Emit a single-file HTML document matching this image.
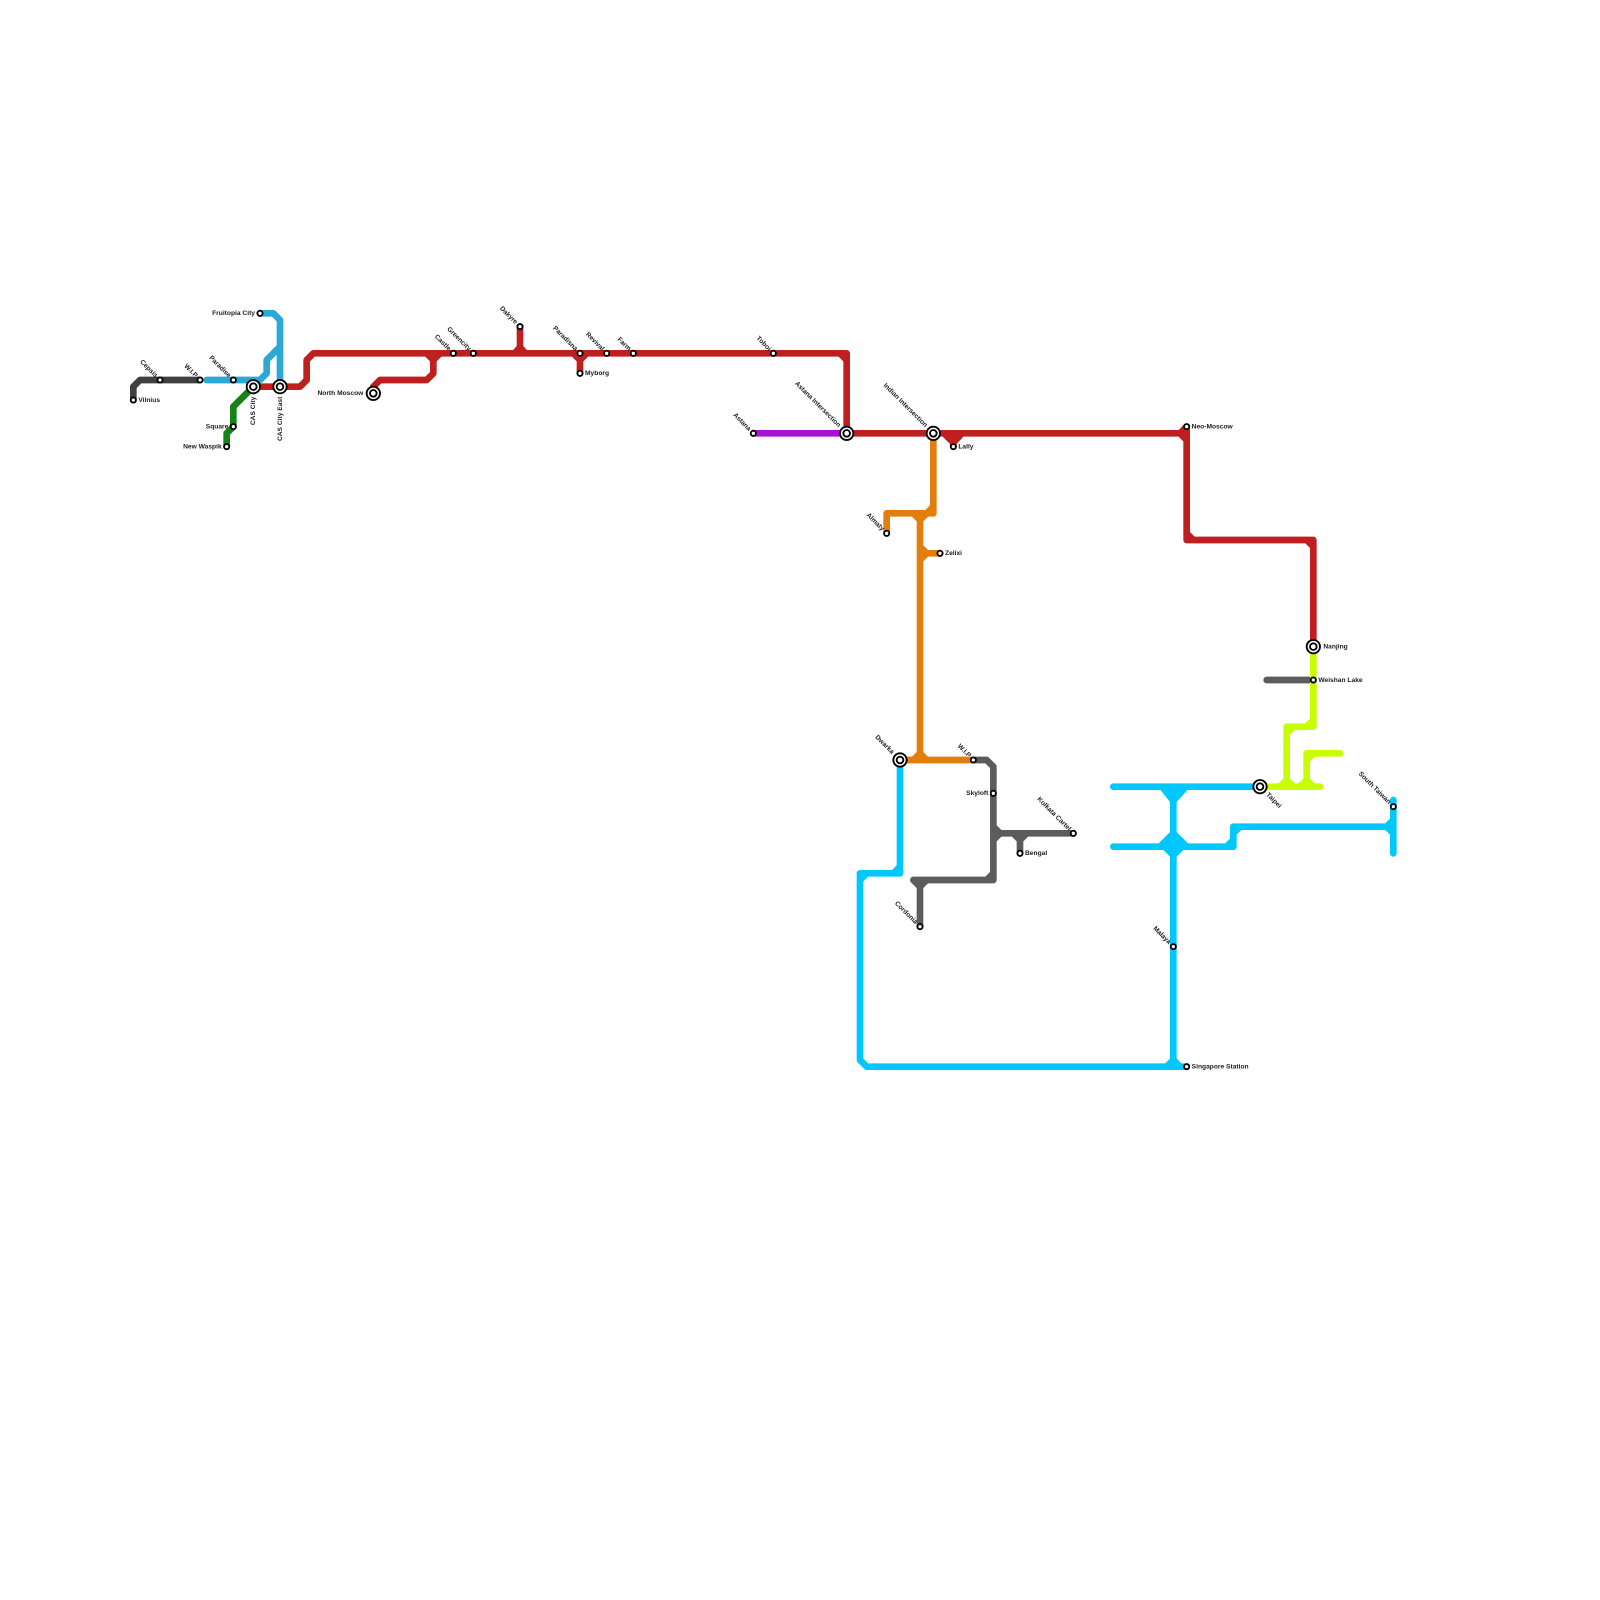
<!DOCTYPE html>
<html><head><meta charset="utf-8"><style>
html,body{margin:0;padding:0;background:#fff}
svg{display:block}
path{fill:none;stroke-width:1;stroke-linejoin:round;stroke-linecap:round}
text{font-family:"Liberation Sans",sans-serif;font-weight:bold;font-size:1px;fill:#1c1c1c}
.s{fill:#fff;stroke:#000;stroke-width:.28}
</style></head><body>
<svg xmlns="http://www.w3.org/2000/svg" width="1600" height="1600" viewBox="0 0 240 240">
<rect width="240" height="240" fill="#fff"/>

<!-- lines -->
<path stroke="#404040" d="M20 60V58L21 57H30"/>
<path stroke="#2ca8d6" d="M31 57H39L40 56V54L42 52M39 47H41L42 48V58"/>
<path stroke="#178217" d="M38 58L35 61V64L34 65V67"/>

<path stroke="#c01f1f" d="M38 58H45L46 57V54L47 53H127V65M56 59V58L57 57H64L65 56V54L66 53M64 53L65 54M78 49V53M87 53V56M126 53L127 54M127 65H177L178 66V81H197V97M177 65L178 64V66M178 80L179 81M196 81L197 82M86 53L87 54L88 53M143 65V67"/>
<polygon fill="#c01f1f" points="76.9,52.6 77.5,51.9 78.5,51.9 79.1,52.6"/>
<polygon fill="#c01f1f" points="141.3,65.4 142.5,66.6 143.5,66.6 144.6,65.4"/>

<path stroke="#aa10d8" d="M113 65H127"/>

<path stroke="#e27f0c" d="M133 80V77H140V65M139 77L140 76M137 77L138 78V114M139 77L138 78M138 82L139 83H141M139 83L138 84M135 114H146M137 114L138 113L139 114"/>

<path stroke="#5c5c5c" d="M146 114H148L149 115V132H137L138 133V139M139 132L138 133M149 124L150 125H161M149 126L150 125M148 132L149 131M152 125L153 126V128M154 125L153 126"/>
<path stroke="#5c5c5c" d="M190 102H197"/>

<path stroke="#00c8ff" d="M135 114V131H129V159L130 160H178M134 131L135 130M129 132L130 131M176 118V160M175 160L176 159L177 160M167 118H189M167 127H185V124H209M184 127L185 126M185 125L186 124M209 120V128M208 124L209 123M208 124L209 125"/>
<polygon fill="#00c8ff" points="174,118.4 175.5,120.3 176.5,120.3 178.2,118.4"/>
<polygon fill="#00c8ff" points="175.5,124.8 176.5,124.8 178.2,126.5 177.5,127.5 176.5,128.5 175.5,128.5 174.5,127.5 173.8,126.5"/>

<path stroke="#c8ff00" d="M197 97V109H193V118M196 109L197 108M193 110L194 109M189 118H198M196 113H201M196 113V118M196 114L197 113M192 118L193 117L194 118M195 118L196 117L197 118"/>

<!-- stations -->
<g>
<circle class="s" cx="20" cy="60" r=".39"/>
<circle class="s" cx="24" cy="57" r=".39"/>
<circle class="s" cx="30" cy="57" r=".39"/>
<circle class="s" cx="35" cy="57" r=".39"/>
<circle class="s" cx="39" cy="47" r=".39"/>
<circle class="s" cx="35" cy="64" r=".39"/>
<circle class="s" cx="34" cy="67" r=".39"/>
<circle class="s" cx="68" cy="53" r=".39"/>
<circle class="s" cx="71" cy="53" r=".39"/>
<circle class="s" cx="78" cy="49" r=".39"/>
<circle class="s" cx="87" cy="53" r=".39"/>
<circle class="s" cx="87" cy="56" r=".39"/>
<circle class="s" cx="91" cy="53" r=".39"/>
<circle class="s" cx="95" cy="53" r=".39"/>
<circle class="s" cx="116" cy="53" r=".39"/>
<circle class="s" cx="113" cy="65" r=".39"/>
<circle class="s" cx="143" cy="67" r=".39"/>
<circle class="s" cx="133" cy="80" r=".39"/>
<circle class="s" cx="141" cy="83" r=".39"/>
<circle class="s" cx="146" cy="114" r=".39"/>
<circle class="s" cx="149" cy="119" r=".39"/>
<circle class="s" cx="161" cy="125" r=".39"/>
<circle class="s" cx="153" cy="128" r=".39"/>
<circle class="s" cx="138" cy="139" r=".39"/>
<circle class="s" cx="176" cy="142" r=".39"/>
<circle class="s" cx="178" cy="160" r=".39"/>
<circle class="s" cx="178" cy="64" r=".39"/>
<circle class="s" cx="197" cy="102" r=".39"/>
<circle class="s" cx="209" cy="121" r=".39"/>
</g>
<g>
<circle class="s" cx="38" cy="58" r="1"/><circle class="s" cx="38" cy="58" r=".5"/>
<circle class="s" cx="42" cy="58" r="1"/><circle class="s" cx="42" cy="58" r=".5"/>
<circle class="s" cx="56" cy="59" r="1"/><circle class="s" cx="56" cy="59" r=".5"/>
<circle class="s" cx="127" cy="65" r="1"/><circle class="s" cx="127" cy="65" r=".5"/>
<circle class="s" cx="140" cy="65" r="1"/><circle class="s" cx="140" cy="65" r=".5"/>
<circle class="s" cx="135" cy="114" r="1"/><circle class="s" cx="135" cy="114" r=".5"/>
<circle class="s" cx="189" cy="118" r="1"/><circle class="s" cx="189" cy="118" r=".5"/>
<circle class="s" cx="197" cy="97" r="1"/><circle class="s" cx="197" cy="97" r=".5"/>
</g>

<!-- labels -->
<g text-anchor="end">
<text transform="translate(24 57) rotate(45)" x="-.75" y=".27">Cepsis</text>
<text transform="translate(30 57) rotate(45)" x="-.75" y=".27">W.I.P</text>
<text transform="translate(35 57) rotate(45)" x="-.75" y=".27">Paradise</text>
<text transform="translate(68 53) rotate(45)" x="-.75" y=".27">Castle</text>
<text transform="translate(71 53) rotate(45)" x="-.75" y=".27">Greencity</text>
<text transform="translate(78 49) rotate(45)" x="-.75" y=".27">Dakyre</text>
<text transform="translate(87 53) rotate(45)" x="-.75" y=".27">Paradisna</text>
<text transform="translate(91 53) rotate(45)" x="-.75" y=".27">Revival</text>
<text transform="translate(95 53) rotate(45)" x="-.75" y=".27">Farm</text>
<text transform="translate(116 53) rotate(45)" x="-.75" y=".27">Toboi</text>
<text transform="translate(113 65) rotate(45)" x="-.75" y=".27">Astana</text>
<text transform="translate(127 65) rotate(45)" x="-1.5" y=".27">Astana Intersection</text>
<text transform="translate(140 65) rotate(45)" x="-1.5" y=".27">Indian Intersection</text>
<text transform="translate(133 80) rotate(45)" x="-.75" y=".27">Almaty</text>
<text transform="translate(135 114) rotate(45)" x="-1.5" y=".27">Dwarka</text>
<text transform="translate(146 114) rotate(45)" x="-.75" y=".27">W.I.P</text>
<text transform="translate(161 125) rotate(45)" x="-.75" y=".27">Kolkata Cartel</text>
<text transform="translate(138 139) rotate(45)" x="-.75" y=".27">Cordonia</text>
<text transform="translate(176 142) rotate(45)" x="-.75" y=".27">Malaya</text>
<text transform="translate(209 121) rotate(45)" x="-.75" y=".27">South Taiwan</text>
<text transform="translate(38 58) rotate(-90)" x="-1.5" y=".27">CAS City</text>
<text transform="translate(42 58) rotate(-90)" x="-1.5" y=".27">CAS City East</text>
<text x="38.25" y="47.27">Fruitopia City</text>
<text x="34.25" y="64.27">Square</text>
<text x="33.25" y="67.27">New Waspik</text>
<text x="54.5" y="59.27">North Moscow</text>
<text x="148.25" y="119.27">Skyloft</text>
</g>
<g>
<text x="20.75" y="60.27">Vilnius</text>
<text x="87.75" y="56.27">Myborg</text>
<text x="143.75" y="67.27">Lally</text>
<text x="141.75" y="83.27">Zelixi</text>
<text x="153.75" y="128.27">Bengal</text>
<text x="178.75" y="160.27">Singapore Station</text>
<text x="178.75" y="64.27">Neo-Moscow</text>
<text x="198.5" y="97.27">Nanjing</text>
<text x="197.75" y="102.27">Weishan Lake</text>
<text transform="translate(189 118) rotate(45)" x="1.5" y=".27">Taipei</text>
</g>
</svg>
</body></html>
